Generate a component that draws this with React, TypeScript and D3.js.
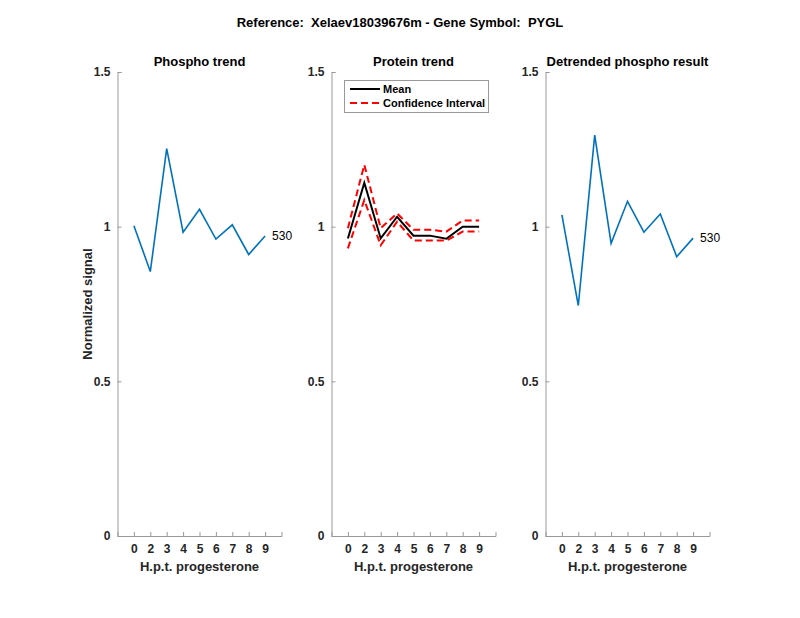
import { useEffect, useRef } from 'react';
import * as d3 from 'd3';

const timepoints = ['0', '2', '3', '4', '5', '6', '7', '8', '9'];
const phospho = [1.003, 0.855, 1.252, 0.982, 1.056, 0.96, 1.006, 0.91, 0.97];
const proteinMean = [0.962, 1.142, 0.962, 1.032, 0.971, 0.971, 0.961, 1.0, 1.0];
const proteinUpper = [0.995, 1.2, 0.995, 1.043, 0.99, 0.99, 0.984, 1.02, 1.02];
const proteinLower = [0.93, 1.086, 0.94, 1.016, 0.955, 0.955, 0.955, 0.984, 0.984];
const detrended = [1.038, 0.745, 1.296, 0.946, 1.082, 0.982, 1.041, 0.903, 0.963];
const yTicks = [0, 0.5, 1, 1.5];
const peptideLabel = '530';

const FONT = '"Liberation Sans", Arial, Helvetica, sans-serif';

export default function App() {
  const ref = useRef<SVGSVGElement>(null);

  useEffect(() => {
    if (!ref.current) return;
    const svg = d3.select(ref.current);
    svg.selectAll('*').remove();

    const width = 800;
    const height = 618;
    const top = 72;
    const bottom = 536;
    const panelW = 164;
    const lefts = [117.5, 331.5, 545.5];

    svg.append('rect').attr('width', width).attr('height', height).attr('fill', '#fff');

    svg.append('text')
      .attr('x', 400).attr('y', 27)
      .attr('text-anchor', 'middle')
      .attr('font-family', FONT).attr('font-size', 13).attr('font-weight', 'bold')
      .attr('fill', '#000')
      .attr('xml:space', 'preserve')
      .style('white-space', 'pre')
      .text('Reference:  Xelaev18039676m - Gene Symbol:  PYGL');

    const y = d3.scaleLinear().domain([0, 1.5]).range([bottom, top]);

    const titles = ['Phospho trend', 'Protein trend', 'Detrended phospho result'];

    lefts.forEach((left, p) => {
      const x = d3.scaleLinear().domain([0, 10]).range([left, left + panelW]);
      const g = svg.append('g');

      // axes
      g.append('g')
        .attr('transform', `translate(${left},0)`)
        .call(d3.axisLeft(y).tickValues(yTicks).tickSize(-4).tickPadding(7).tickFormat(d => `${d}`))
        .call(a => a.select('.domain').attr('stroke', '#999').attr('stroke-width', 1))
        .call(a => a.selectAll('.tick line').attr('stroke', '#999'))
        .call(a => a.selectAll('.tick text')
          .attr('fill', '#262626').attr('font-family', FONT)
          .attr('font-size', 12).attr('font-weight', 'bold'));

      g.append('g')
        .attr('transform', `translate(0,${bottom})`)
        .call(d3.axisBottom(x).tickValues(timepoints.map((_, i) => i + 1))
          .tickSize(-4).tickPadding(8).tickFormat((_, i) => timepoints[i]))
        .call(a => a.select('.domain').attr('stroke', '#999').attr('stroke-width', 1))
        .call(a => a.selectAll('.tick line').attr('stroke', '#999'))
        .call(a => a.selectAll('.tick text')
          .attr('fill', '#262626').attr('font-family', FONT)
          .attr('font-size', 12).attr('font-weight', 'bold'));

      g.append('text')
        .attr('x', left + panelW / 2).attr('y', 571)
        .attr('text-anchor', 'middle')
        .attr('font-family', FONT).attr('font-size', 13).attr('font-weight', 'bold')
        .attr('fill', '#262626')
        .text('H.p.t. progesterone');

      g.append('text')
        .attr('x', left + panelW / 2).attr('y', 66)
        .attr('text-anchor', 'middle')
        .attr('font-family', FONT).attr('font-size', 13).attr('font-weight', 'bold')
        .attr('fill', '#000')
        .text(titles[p]);

      const line = d3.line<number>().x((_, i) => x(i + 1)).y(d => y(d));

      if (p === 1) {
        [proteinUpper, proteinLower].forEach(s => {
          g.append('path').datum(s).attr('d', line)
            .attr('fill', 'none').attr('stroke', '#ff0000').attr('stroke-width', 2)
            .attr('stroke-dasharray', '7,4');
        });
        g.append('path').datum(proteinMean).attr('d', line)
          .attr('fill', 'none').attr('stroke', '#000').attr('stroke-width', 2);

        // legend
        const lg = g.append('g');
        lg.append('rect').attr('x', 344.5).attr('y', 80.5).attr('width', 144).attr('height', 32)
          .attr('fill', '#fff').attr('stroke', '#999').attr('stroke-width', 1);
        lg.append('line').attr('x1', 350).attr('x2', 380).attr('y1', 89).attr('y2', 89)
          .attr('stroke', '#000').attr('stroke-width', 2);
        lg.append('line').attr('x1', 350).attr('x2', 380).attr('y1', 103).attr('y2', 103)
          .attr('stroke', '#ff0000').attr('stroke-width', 2).attr('stroke-dasharray', '7,4');
        lg.append('text').attr('x', 383).attr('y', 93)
          .attr('font-family', FONT).attr('font-size', 11).attr('font-weight', 'bold').attr('fill', '#000')
          .text('Mean');
        lg.append('text').attr('x', 383).attr('y', 107)
          .attr('font-family', FONT).attr('font-size', 11).attr('font-weight', 'bold').attr('fill', '#000')
          .text('Confidence Interval');
      } else {
        const s = p === 0 ? phospho : detrended;
        g.append('path').datum(s).attr('d', line)
          .attr('fill', 'none').attr('stroke', '#0072BD').attr('stroke-width', 1.6);
        const last = s.length;
        g.append('text')
          .attr('x', x(last) + 7).attr('y', y(s[last - 1]) + 4)
          .attr('font-family', FONT).attr('font-size', 12).attr('fill', '#000')
          .text(peptideLabel);
      }
    });

    svg.append('text')
      .attr('transform', `translate(92,${(top + bottom) / 2}) rotate(-90)`)
      .attr('text-anchor', 'middle')
      .attr('font-family', FONT).attr('font-size', 13).attr('font-weight', 'bold')
      .attr('fill', '#262626')
      .text('Normalized signal');
  }, []);

  return (
    <svg ref={ref} width={800} height={618}
      style={{ position: 'absolute', left: 0, top: 0, display: 'block' }} />
  );
}
